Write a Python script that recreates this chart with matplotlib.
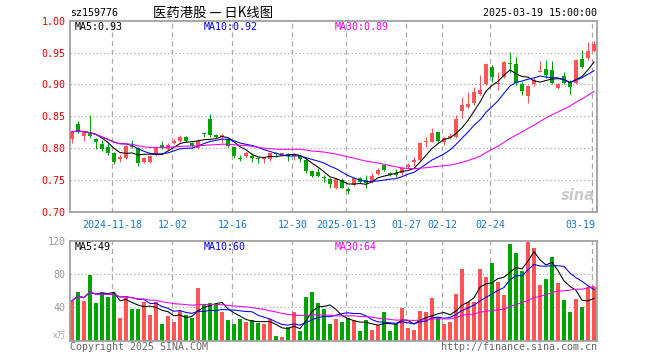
import matplotlib
matplotlib.use('Agg')
import matplotlib.pyplot as plt
import numpy as np
import pandas as pd

# ---------------- data ----------------
opens = [0.8135, 0.8376, 0.8192, 0.8229, 0.8135, 0.8061, 0.8019, 0.7925, 0.7820, 0.7836,
         0.8030, 0.7993, 0.7773, 0.7778, 0.7888, 0.8046, 0.7978, 0.8072, 0.8114, 0.8177,
         0.8072, 0.7993, 0.8234, 0.8460, 0.8198, 0.8166, 0.8135, 0.8009, 0.7841, 0.7873,
         0.7879, 0.7837, 0.7821, 0.7821, 0.7915, 0.7889, 0.7905, 0.7873, 0.7873, 0.7810,
         0.7632, 0.7627, 0.7548, 0.7506, 0.7365, 0.7496, 0.7349, 0.7417, 0.7522, 0.7496,
         0.7470, 0.7590, 0.7727, 0.7611, 0.7611, 0.7601, 0.7706, 0.7784, 0.7810, 0.8088,
         0.8098, 0.8245, 0.8098, 0.8161, 0.8177, 0.8586, 0.8648, 0.8701, 0.8848, 0.9000,
         0.9277, 0.9005, 0.9120, 0.9335, 0.9324, 0.8999, 0.8816, 0.9005, 0.9199, 0.9241,
         0.9225, 0.8947, 0.9136, 0.9041, 0.9015, 0.9398, 0.9408, 0.9524]
closes = [0.8255, 0.8271, 0.8245, 0.8187, 0.8098, 0.7978, 0.7915, 0.7784, 0.7862, 0.8030,
          0.8014, 0.7757, 0.7836, 0.7873, 0.8009, 0.7993, 0.8051, 0.8114, 0.8177, 0.8114,
          0.8030, 0.8114, 0.8213, 0.8203, 0.8166, 0.8198, 0.8030, 0.7878, 0.7826, 0.7915,
          0.7847, 0.7821, 0.7837, 0.7915, 0.7899, 0.7915, 0.7873, 0.7899, 0.7821, 0.7643,
          0.7564, 0.7564, 0.7527, 0.7428, 0.7506, 0.7375, 0.7328, 0.7522, 0.7470, 0.7444,
          0.7564, 0.7653, 0.7648, 0.7580, 0.7575, 0.7690, 0.7732, 0.7810, 0.8072, 0.8109,
          0.8229, 0.8109, 0.8151, 0.8193, 0.8455, 0.8675, 0.8690, 0.8874, 0.8910, 0.9314,
          0.9120, 0.9015, 0.9356, 0.9324, 0.9015, 0.8900, 0.8973, 0.9068, 0.9214, 0.9146,
          0.9015, 0.8999, 0.9015, 0.8952, 0.9382, 0.9267, 0.9524, 0.9628]
highs = [0.8266, 0.8428, 0.8260, 0.8517, 0.8150, 0.8124, 0.8072, 0.7941, 0.7888, 0.8046,
         0.8124, 0.8019, 0.7852, 0.7888, 0.8019, 0.8114, 0.8072, 0.8135, 0.8203, 0.8187,
         0.8088, 0.8135, 0.8255, 0.8533, 0.8213, 0.8213, 0.8150, 0.8019, 0.7883, 0.7941,
         0.7915, 0.7863, 0.7863, 0.7926, 0.7941, 0.7926, 0.7926, 0.7926, 0.7889, 0.7837,
         0.7653, 0.7679, 0.7575, 0.7522, 0.7522, 0.7522, 0.7381, 0.7538, 0.7538, 0.7575,
         0.7601, 0.7679, 0.7737, 0.7622, 0.7664, 0.7706, 0.7758, 0.7863, 0.8098, 0.8177,
         0.8308, 0.8255, 0.8177, 0.8229, 0.8517, 0.8806, 0.8874, 0.8963, 0.9146, 0.9330,
         0.9303, 0.9188, 0.9366, 0.9503, 0.9434, 0.9041, 0.8989, 0.9094, 0.9366, 0.9382,
         0.9366, 0.9015, 0.9199, 0.9068, 0.9398, 0.9539, 0.9660, 0.9681]
lows = [0.8082, 0.8240, 0.8103, 0.8150, 0.7978, 0.7957, 0.7888, 0.7747, 0.7784, 0.7820,
        0.7993, 0.7721, 0.7757, 0.7768, 0.7873, 0.7978, 0.7967, 0.8061, 0.8098, 0.8098,
        0.8009, 0.7978, 0.8166, 0.8177, 0.8150, 0.8082, 0.8009, 0.7836, 0.7799, 0.7863,
        0.7784, 0.7758, 0.7758, 0.7800, 0.7863, 0.7873, 0.7800, 0.7810, 0.7784, 0.7601,
        0.7538, 0.7538, 0.7470, 0.7365, 0.7349, 0.7365, 0.7276, 0.7402, 0.7444, 0.7365,
        0.7454, 0.7575, 0.7632, 0.7564, 0.7548, 0.7575, 0.7679, 0.7716, 0.7794, 0.8020,
        0.8088, 0.8072, 0.8046, 0.8140, 0.8151, 0.8465, 0.8622, 0.8675, 0.8832, 0.8989,
        0.9041, 0.8910, 0.9104, 0.9172, 0.8989, 0.8832, 0.8701, 0.8979, 0.9188, 0.9094,
        0.8999, 0.8926, 0.8999, 0.8842, 0.8999, 0.9251, 0.9382, 0.9503]
volumes = [48, 58.8, 48, 79, 45.6, 56.8, 52.8, 56.8, 27.6, 53.6,
           38, 38, 46.8, 30.8, 46.8, 20, 29.6, 22.4, 35.6, 30.8,
           27.6, 63.2, 44, 45, 42.8, 34.4, 24.8, 20, 26, 22.4,
           24.8, 21.2, 20, 26, 5.6, 4.4, 16.4, 34.4, 11.6, 52.8,
           58.8, 45, 38, 20, 25.6, 22.4, 26.8, 24.8, 12, 24.8,
           12.8, 18.8, 34.4, 12, 20, 39.6, 15.2, 12.8, 35.6, 34.4,
           51.2, 28, 20, 22.4, 56.4, 86, 46.4, 46.4, 86, 76.4,
           93.2, 70.4, 54.8, 116, 105, 84, 118.4, 111, 66.8, 74,
           100, 69, 48.8, 34.4, 50, 40.4, 64.8, 64.8]
date_tick_idx = [7, 17, 27, 37, 46, 56, 62, 70, 87]
date_tick_labels = ['2024-11-18', '12-02', '12-16', '12-30', '2025-01-13',
                    '01-27', '02-12', '02-24', '03-19']
price_ticks = [0.70, 0.75, 0.80, 0.85, 0.90, 0.95, 1.00]
vol_ticks = [40, 80, 120]
price_ma_labels = ['MA5:0.93', 'MA10:0.92', 'MA30:0.89']
vol_ma_labels = ['MA5:49', 'MA10:60', 'MA30:64']
title_code = 'sz159776'
title_name = '医药港股 — 日K线图'
title_time = '2025-03-19 15:00:00'

# ---------------- styling ----------------
RED = '#ff5555'
GREEN = '#00a400'
FRAME = '#a0a0a0'
GRID = '#aaaaaa'
MONO = 'DejaVu Sans Mono'
FS = 7.2

n = len(closes)
idx = np.arange(n)
o = np.array(opens); c = np.array(closes); h = np.array(highs); l = np.array(lows)
v = np.array(volumes)
up = c >= o
cols = [RED if u else GREEN for u in up]

cs = pd.Series(c)
vs = pd.Series(v)
ma_cols = ['black', '#0000ee', '#ee00ee']
ma_win = [5, 10, 30]

W, H = 660, 360
fig = plt.figure(figsize=(W / 100, H / 100), dpi=100)
fig.patch.set_facecolor('white')

def frac(x0, y0, x1, y1):
    return [x0 / W, 1 - y1 / H, (x1 - x0) / W, (y1 - y0) / H]

ax = fig.add_axes(frac(70, 20.7, 597, 211.5))
axv = fig.add_axes(frac(70, 240.7, 597, 340.7))

xlim = (-0.333, 87.5)
for a in (ax, axv):
    a.set_xlim(*xlim)
    for s in a.spines.values():
        s.set_color(FRAME)
        s.set_linewidth(1.3)
    a.tick_params(length=0)
    a.set_xticks([])
    for t in date_tick_idx:
        a.axvline(t - 0.25, color=GRID, lw=0.9, ls=(0, (4, 3)), zorder=0)

# price panel
ax.set_ylim(0.70, 1.00)
for yv in price_ticks[1:-1]:
    ax.axhline(yv, color=GRID, lw=0.9, ls=(0, (1, 2)), zorder=0)
ax.set_yticks(price_ticks)
ax.set_yticklabels(['%.2f' % t for t in price_ticks], color='#ee0000',
                   fontfamily=MONO, fontsize=FS)
ax.tick_params(axis='y', pad=3)

ax.vlines(idx, l, h, colors=cols, lw=0.75, zorder=2)
body_bottom = np.minimum(o, c)
body_h = np.maximum(np.abs(c - o), 0.0008)
ax.bar(idx, body_h, bottom=body_bottom, width=0.75, color=cols, zorder=3,
       linewidth=0)

for w, col in zip(ma_win, ma_cols):
    ax.plot(idx, cs.rolling(w, min_periods=1).mean(), color=col, lw=0.75, zorder=4)

lab_x = [75, 204, 335]
for txt, col, x in zip(price_ma_labels, ma_cols, lab_x):
    fig.text(x / W, 1 - 27.5 / H, txt, color=col, fontfamily=MONO, fontsize=FS,
             va='center', ha='left')

for i, lab in zip(date_tick_idx, date_tick_labels):
    ha = 'right' if i == date_tick_idx[-1] else 'center'
    xx = i + 0.2 if ha == 'right' else i - 0.25
    ax.text(xx, -0.045, lab, transform=ax.get_xaxis_transform(),
            color='#1177cc', fontfamily=MONO, fontsize=FS, ha=ha, va='top')

# volume panel
axv.set_ylim(0, 120)
for yv in vol_ticks[:-1]:
    axv.axhline(yv, color=GRID, lw=0.9, ls=(0, (1, 2)), zorder=0)
axv.set_yticks(vol_ticks)
axv.set_yticklabels([str(t) for t in vol_ticks], color='#999999',
                    fontfamily=MONO, fontsize=FS)
axv.tick_params(axis='y', pad=3)
axv.bar(idx, v, width=0.82, color=cols, linewidth=0, zorder=2)
for w, col in zip(ma_win, ma_cols):
    axv.plot(idx, vs.rolling(w, min_periods=1).mean(), color=col, lw=0.75, zorder=4)
for txt, col, x in zip(vol_ma_labels, ma_cols, lab_x):
    fig.text(x / W, 1 - 247.5 / H, txt, color=col, fontfamily=MONO, fontsize=FS,
             va='center', ha='left')

# header / footer texts
fig.text(70 / W, 1 - 13 / H, title_code, fontfamily=MONO, fontsize=FS,
         va='center', ha='left', color='black')
fig.text(213 / W, 1 - 13 / H, title_name,
         fontfamily=['Noto Sans CJK SC', 'DejaVu Sans'], fontsize=9.6,
         va='center', ha='center', color='black')
fig.text(597 / W, 1 - 13 / H, title_time, fontfamily=MONO, fontsize=FS,
         va='center', ha='right', color='black')
fig.text(66 / W, 1 - 336 / H, 'x万', fontfamily=['Noto Sans CJK SC', 'DejaVu Sans'],
         fontsize=6.5, va='center', ha='right', color='#aaaaaa')
fig.text(70 / W, 1 - 347.5 / H, 'Copyright 2025 SINA.COM', fontfamily=MONO,
         fontsize=FS, va='center', ha='left', color='#666666')
fig.text(597 / W, 1 - 347.5 / H, 'http://finance.sina.com.cn', fontfamily=MONO,
         fontsize=FS, va='center', ha='right', color='#666666')
fig.text(578 / W, 1 - 196 / H, 'sina', fontfamily='DejaVu Sans', fontsize=10.5,
         fontweight='bold', fontstyle='italic', va='center', ha='center',
         color='#c4c4c4', alpha=0.9)

fig.savefig('out.png', dpi=100, facecolor='white')
